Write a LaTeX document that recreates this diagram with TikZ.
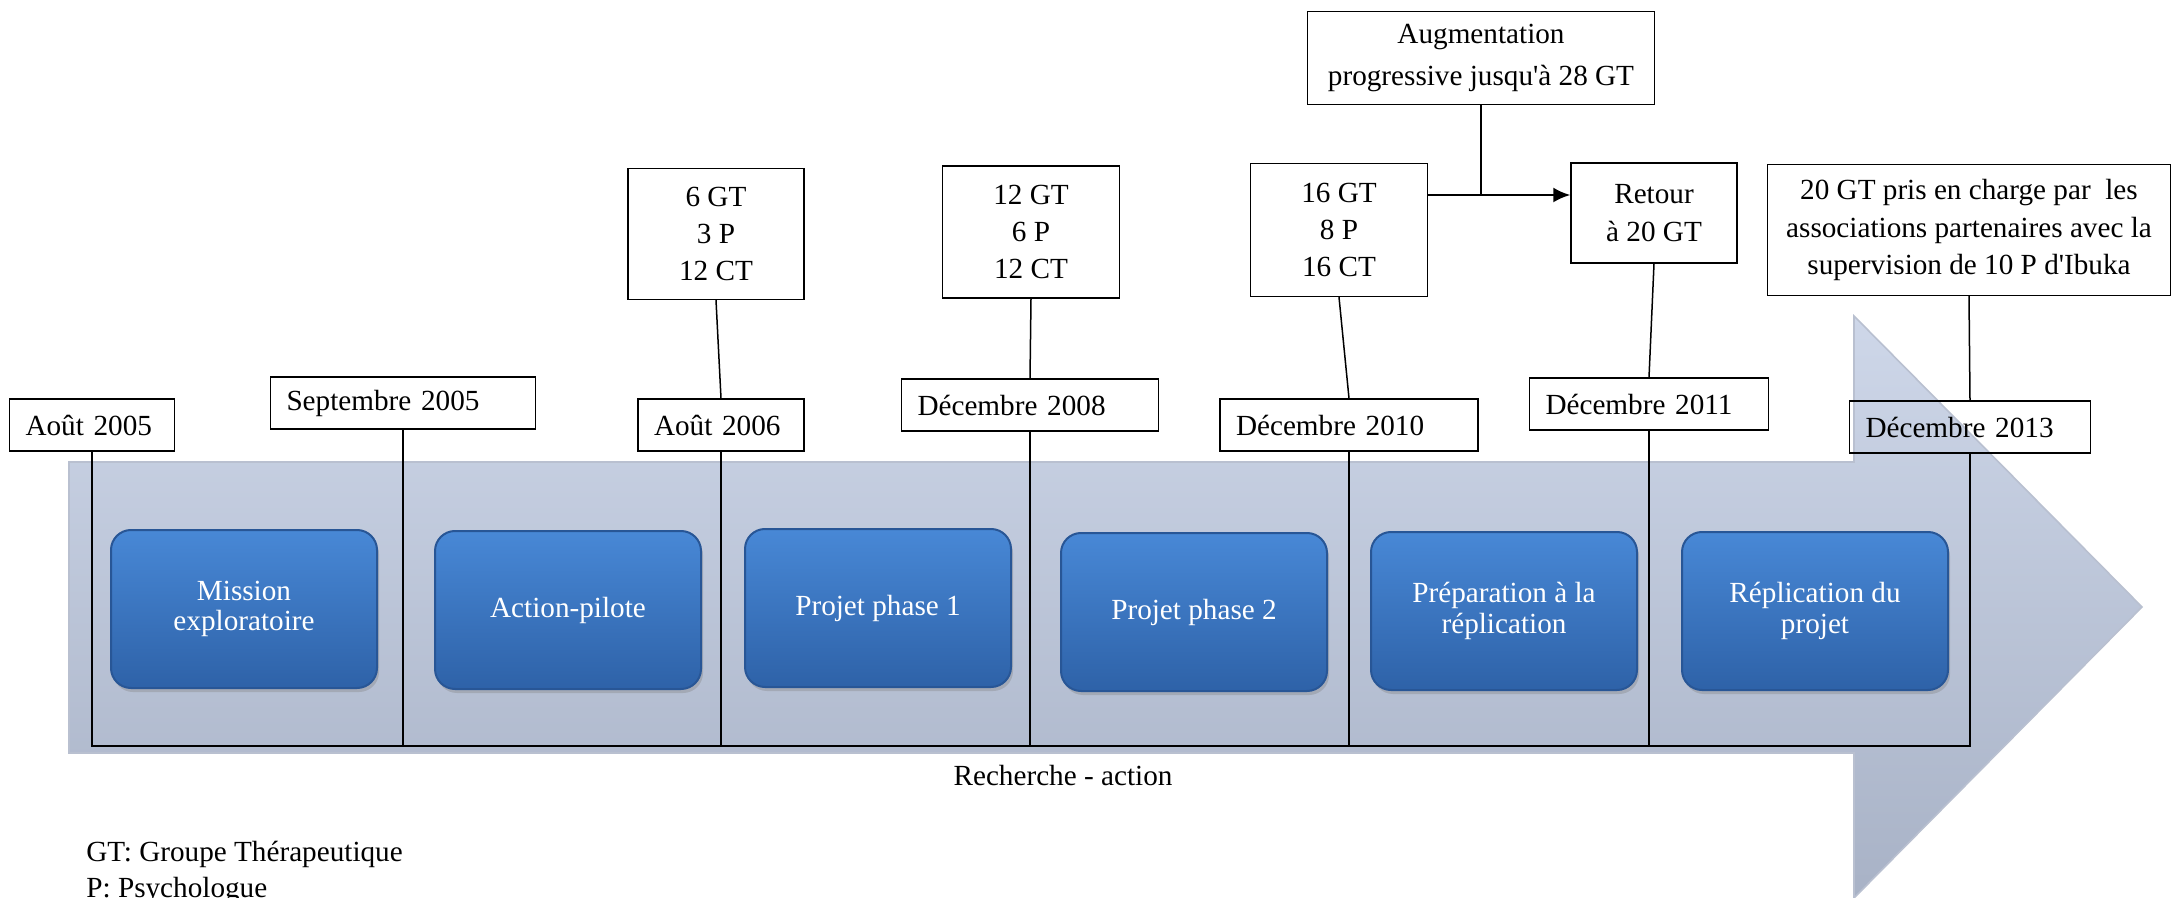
\documentclass[tikz,border=0pt]{standalone}
\usepackage{fontspec}
\setmainfont{Liberation Serif}
\usepackage{tikz}
\usetikzlibrary{arrows.meta,shadows}
\definecolor{bandtop}{RGB}{206,215,233}
\definecolor{bandbot}{RGB}{168,178,198}
\definecolor{bandedge}{RGB}{185,192,208}
\definecolor{phasetop}{RGB}{72,136,214}
\definecolor{phasebot}{RGB}{46,98,168}
\definecolor{phaseedge}{RGB}{40,86,150}

\begin{document}
\begin{tikzpicture}[x=0.5pt,y=-0.5pt,
	every node/.style={font=\fontsize{14.6}{18.7}\selectfont},
	datebox/.style={draw,line width=0.7pt,minimum height=26pt,inner xsep=8pt,align=left},
	infobox/.style={draw,line width=0.7pt,fill=white,align=center,inner sep=2pt},
	phase/.style={draw=phaseedge,line width=1pt,top color=phasetop,bottom color=phasebot,rounded corners=10pt,
		minimum width=133pt,minimum height=79pt,text=white,align=center,font=\fontsize{14.6}{15.3}\selectfont,
		drop shadow={shadow xshift=1pt,shadow yshift=-2pt,opacity=0.35}},
	tick/.style={line width=0.75pt}]
					\useasboundingbox (0,0) rectangle (2174,898);
					\coordinate (base) at (0,746);
					\coordinate (arrowrow) at (0,195);
					
					\path[draw=bandedge,line width=0.8pt,top color=bandtop,bottom color=bandbot]
						(69,462) -- (1854,462) -- (1854,316) -- (2142,607) -- (1854,898) -- (1854,753) -- (69,753) -- cycle;
					
					\node[datebox,text width=66.5pt] (aout05) at (92,425) {Août 2005};
					\node[datebox,text width=116.5pt] (sept05) at (403,403) {Septembre 2005};
					\node[datebox,text width=67pt] (aout06) at (721,425) {Août 2006};
					\node[datebox,text width=112.5pt] (dec08) at (1030,405) {Décembre 2008};
					\node[datebox,text width=113pt] (dec10) at (1349,425) {Décembre 2010};
					\node[datebox,text width=103.5pt] (dec11) at (1649,404) {Décembre 2011};
					\node[datebox,text width=104.5pt] (dec13) at (1970,427) {Décembre 2013};
					
					\node[infobox,minimum width=88pt,minimum height=65.5pt] (info06) at (716,234) {6 GT\\3 P\\12 CT};
					\node[infobox,minimum width=88.5pt,minimum height=66pt] (info08) at (1031,232) {12 GT\\6 P\\12 CT};
					\node[infobox,minimum width=88.5pt,minimum height=66.5pt] (info10) at (1339,230) {16 GT\\8 P\\16 CT};
					\node[infobox,minimum width=83pt,minimum height=50pt] (retour) at (1654,213) {Retour\\à 20 GT};
					\node[infobox,minimum width=201.5pt,minimum height=65.5pt] (ibuka) at (1969,230) {20 GT pris en charge par\ \ les\\associations partenaires avec la\\supervision de 10 P d\textquotesingle Ibuka};
					\node[infobox,minimum width=173.5pt,minimum height=46.5pt,font=\fontsize{14.6}{20.8}\selectfont] (augm) at (1481,58) {Augmentation\\progressive jusqu\textquotesingle à 28 GT};
					
					\draw[tick] (info06.south) -- (aout06.north);
					\draw[tick] (info08.south) -- (dec08.north);
					\draw[tick] (info10.south) -- (dec10.north);
					\draw[tick] (retour.south) -- (dec11.north);
					\draw[tick] (ibuka.south) -- (dec13.north);
					\draw[tick] (augm.south) -- (augm.south |- arrowrow);
					\draw[line width=1.2pt,-{Latex[length=8.5pt,width=7.5pt]}] (info10.east |- arrowrow) -- (retour.west |- arrowrow);
					
					\draw[tick] (aout05.south) |- (dec13.south |- base) -- (dec13.south);
					\foreach \d in {sept05,aout06,dec08,dec10,dec11}
						\draw[tick] (\d.south) -- (\d.south |- base);
					
					\node[phase] (mission) at (244,609) {Mission\\exploratoire};
					\node[phase] (pilote) at (568,610) {Action-pilote};
					\node[phase] (phase1) at (878,608) {Projet phase 1};
					\node[phase] (phase2) at (1194,612) {Projet phase 2};
					\node[phase] (prepa) at (1504,611) {Préparation à la\\réplication};
					\node[phase] (replic) at (1815,611) {Réplication du\\projet};
					
					\node (recherche) at (1063,776) {Recherche - action};
					\node[anchor=west,inner sep=0pt] (legendgt) at (86,854) {GT: Groupe Thérapeutique};
					\node[anchor=west,inner sep=0pt] (legendp) at (86,891) {P: Psychologue};
				\end{tikzpicture}
\end{document}
